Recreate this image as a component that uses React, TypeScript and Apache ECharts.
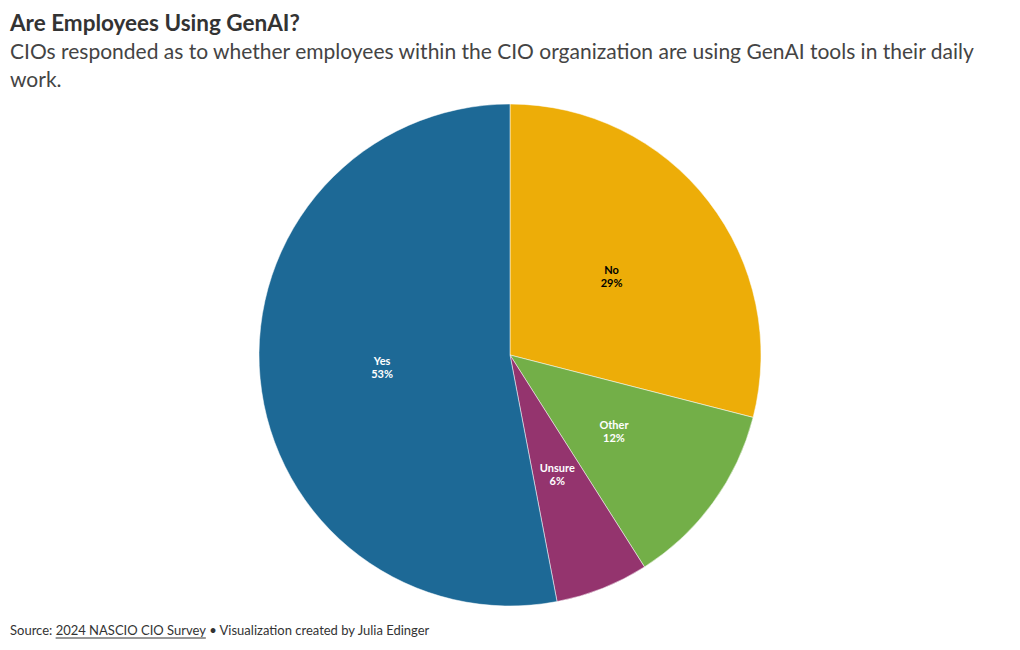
import React, { useEffect, useRef } from "react";
import * as echarts from "echarts";

const categories = ["No", "Other", "Unsure", "Yes"];
const values = [29, 12, 6, 53];
const colors = ["#edad08", "#73af48", "#94346e", "#1d6996"];
const labelColors = ["#000000", "#ffffff", "#ffffff", "#ffffff"];

const titleText = "Are Employees Using GenAI?";
const subtitleText =
  "CIOs responded as to whether employees within the CIO organization are using GenAI tools in their daily\nwork.";
const sourcePrefix = "Source: ";
const sourceLink = "2024 NASCIO CIO Survey";
const sourceSuffix = " \u2022 Visualization created by Julia Edinger";

const FONT = "Lato, 'Noto Sans', sans-serif";

function measure(text: string, font: string): number {
  const c = document.createElement("canvas");
  const ctx = c.getContext("2d")!;
  ctx.font = font;
  return ctx.measureText(text).width;
}

export default function App() {
  const ref = useRef<HTMLDivElement>(null);
  useEffect(() => {
    if (!ref.current) return;
    const chart = echarts.init(ref.current, undefined, { renderer: "svg" });
    const footFont = "13px Lato";
    const x0 = 10;
    const w1 = measure(sourcePrefix, footFont);
    const w2 = measure(sourceLink, footFont);
    chart.setOption({
      animation: false,
      backgroundColor: "#ffffff",
      title: [
        {
          text: titleText,
          left: 10,
          top: 11,
          padding: 0,
          textStyle: { fontFamily: FONT, fontSize: 22.5, fontWeight: "bold", color: "#333333" },
        },
        {
          text: subtitleText,
          left: 10,
          top: 36,
          padding: 0,
          textStyle: { fontFamily: FONT, fontSize: 21, fontWeight: "normal", color: "#444444", lineHeight: 28 },
        },
      ],
      graphic: [
        {
          type: "text",
          left: x0,
          top: 623,
          style: {
            text: `{a|${sourcePrefix}}{b|${sourceLink}}{a|${sourceSuffix}}`,
            rich: {
              a: { fontFamily: FONT, fontSize: 13, fill: "#333333" },
              b: { fontFamily: FONT, fontSize: 13, fill: "#333333" },
            },
          },
        },
        {
          type: "line",
          shape: { x1: x0 + w1, y1: 638, x2: x0 + w1 + w2, y2: 638 },
          style: { stroke: "#333333", lineWidth: 1 },
        },
      ],
      series: [
        {
          type: "pie",
          center: [510, 355],
          radius: 251,
          startAngle: 90,
          clockwise: true,
          avoidLabelOverlap: false,
          itemStyle: { borderColor: "#ffffff", borderWidth: 0.5 },
          label: {
            show: true,
            position: "inside",
            fontFamily: FONT,
            fontSize: 11,
            fontWeight: "bold",
            lineHeight: 13,
            formatter: (p: any) => `${p.name}\n${p.value}%`,
          },
          labelLine: { show: false },
          emphasis: { disabled: true },
          data: categories.map((c, i) => ({
            name: c,
            value: values[i],
            itemStyle: { color: colors[i] },
            label: { color: labelColors[i] },
          })),
        },
      ],
    });
    return () => chart.dispose();
  }, []);
  return <div ref={ref} style={{ position: "fixed", left: 0, top: 0, width: 1020, height: 650 }} />;
}
